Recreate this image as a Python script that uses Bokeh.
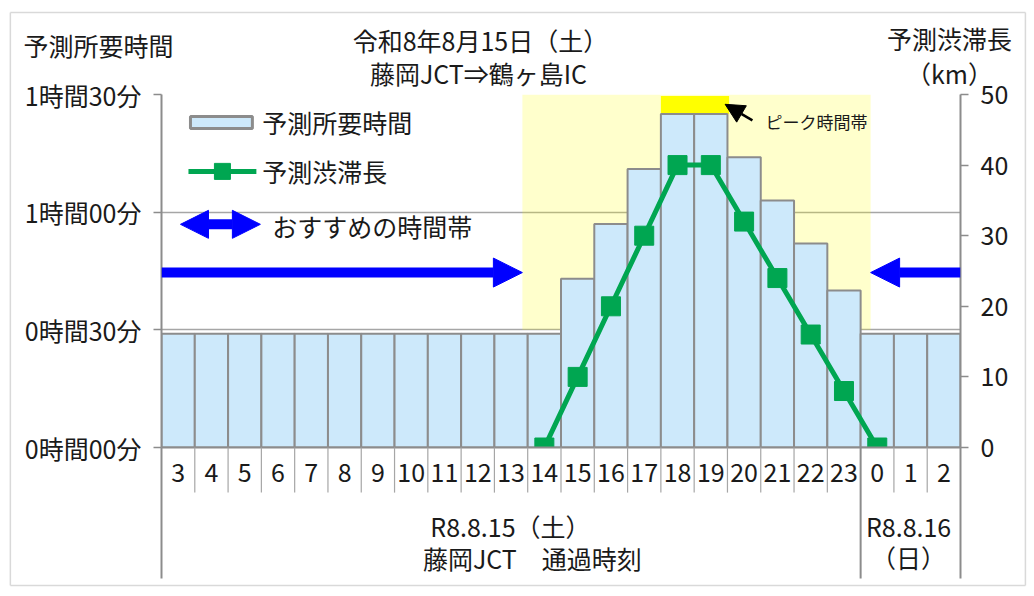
from bokeh.plotting import figure
from bokeh.models import (ColumnDataSource, FactorRange, Range1d, LinearAxis, FixedTicker,
                          Arrow, NormalHead)
from bokeh.core.properties import value
from bokeh.embed import file_html
from bokeh.resources import INLINE

# ---------------- data ----------------
hours = ["3", "4", "5", "6", "7", "8", "9", "10", "11", "12", "13", "14",
         "15", "16", "17", "18", "19", "20", "21", "22", "23", "0", "1", "2"]
travel_minutes = [29, 29, 29, 29, 29, 29, 29, 29, 29, 29, 29, 29,
                  43, 57, 71, 85, 85, 74, 63, 52, 40, 29, 29, 29]
jam_hours = ["14", "15", "16", "17", "18", "19", "20", "21", "22", "23", "0"]
jam_km = [0, 10, 20, 30, 40, 40, 32, 24, 16, 8, 0]
peak_hours = ["18", "19"]

time_ticks = [0, 30, 60, 90]
time_tick_labels = ["0時間00分", "0時間30分", "1時間00分", "1時間30分"]
km_ticks = [0, 10, 20, 30, 40, 50]

title_left = "予測所要時間"
title_center = ["令和8年8月15日（土）", "藤岡JCT⇒鶴ヶ島IC"]
title_right = ["予測渋滞長", "（km）"]
group1_lines = ["R8.8.15（土）", "藤岡JCT　通過時刻"]
group2_lines = ["R8.8.16", "（日）"]
legend_labels = ["予測所要時間", "予測渋滞長", "おすすめの時間帯"]
peak_label = "ピーク時間帯"

# ---------------- style ----------------
FONT = "Noto Sans CJK JP"
FS = "25px"
BAR_FILL = "#cde9fb"
BAR_LINE = "#8c8c8c"
GREEN = "#00a651"
BLUE = "#0000ff"
GRAY = "#8c8c8c"
GRID = "#a6a6a6"
TXT = "#1a1a1a"

n = len(hours)

p = figure(width=1034, height=596,
           x_range=FactorRange(factors=hours, range_padding=0),
           y_range=Range1d(0, 90),
           output_backend="svg", toolbar_location=None, title=None,
           min_border_left=161, min_border_right=74,
           min_border_top=94, min_border_bottom=149)
p.extra_y_ranges = {"km": Range1d(0, 50)}
p.outline_line_color = None
p.background_fill_color = "white"
p.border_fill_color = "white"

# congested (non-recommended) band and peak band
p.quad(left=[10.84], right=[21.30], bottom=[30], top=[90],
       fill_color="#ffff00", fill_alpha=0.2, line_color=None)
i0 = hours.index(peak_hours[0])
i1 = hours.index(peak_hours[-1]) + 1
p.quad(left=[i0], right=[i1 + 0.05], bottom=[max(travel_minutes)], top=[89.6],
       fill_color="#ffff00", line_color=None)

# bars
src = ColumnDataSource(dict(h=hours, t=travel_minutes))
p.vbar(x="h", top="t", bottom=0, width=1.0, source=src,
       fill_color=BAR_FILL, line_color=BAR_LINE, line_width=2)

# jam line
jsrc = ColumnDataSource(dict(h=jam_hours, k=jam_km))
p.line(x="h", y="k", source=jsrc, y_range_name="km", line_color=GREEN, line_width=5)
p.scatter(x="h", y="k", source=jsrc, y_range_name="km", marker="square", size=19,
          fill_color=GREEN, line_color=GREEN)

# axes
xa = p.xaxis[0]
xa.axis_line_color = GRAY
xa.axis_line_width = 2
xa.major_tick_line_color = None
xa.major_tick_out = 0
xa.major_tick_in = 0
xa.major_label_text_font = FONT
xa.major_label_text_font_size = FS
xa.major_label_text_color = TXT
xa.major_label_standoff = 15

ya = p.yaxis[0]
ya.ticker = FixedTicker(ticks=time_ticks)
ya.major_label_overrides = {t: l for t, l in zip(time_ticks, time_tick_labels)}
ya.axis_line_color = GRAY
ya.axis_line_width = 2
ya.major_tick_line_color = GRAY
ya.major_tick_line_width = 1.5
ya.major_tick_out = 8
ya.major_tick_in = 0
ya.minor_tick_line_color = None
ya.major_label_text_font = FONT
ya.major_label_text_font_size = FS
ya.major_label_text_color = TXT
ya.major_label_standoff = 12

ra = LinearAxis(y_range_name="km", ticker=FixedTicker(ticks=km_ticks))
ra.axis_line_color = GRAY
ra.axis_line_width = 2
ra.major_tick_line_color = GRAY
ra.major_tick_line_width = 1.5
ra.major_tick_out = 8
ra.major_tick_in = 0
ra.minor_tick_line_color = None
ra.major_label_text_font = FONT
ra.major_label_text_font_size = FS
ra.major_label_text_color = TXT
ra.major_label_standoff = 12
p.add_layout(ra, "right")

p.xgrid.visible = False
p.ygrid.grid_line_color = GRID
p.ygrid.grid_line_width = 1.5

# recommended-time arrows
p.add_layout(Arrow(x_start=0, y_start=44.6, x_end=10.84, y_end=44.6,
                   line_color=BLUE, line_width=10,
                   end=NormalHead(size=29, fill_color=BLUE, line_color=BLUE, line_width=1)))
p.add_layout(Arrow(x_start=n, y_start=44.6, x_end=21.30, y_end=44.6,
                   line_color=BLUE, line_width=10,
                   end=NormalHead(size=29, fill_color=BLUE, line_color=BLUE, line_width=1)))

# peak annotation
p.add_layout(Arrow(x_start=17.75, y_start=83.4, x_end=16.93, y_end=87.5,
                   line_color="black", line_width=2.5,
                   end=NormalHead(size=19, fill_color="black", line_color="black", line_width=1)))
p.text(x=[18.14], y=[83.1], text=[peak_label], text_font=value(FONT),
       text_font_size="17px", text_baseline="middle", text_align="left", text_color=TXT)

# legend (drawn inside the frame)
p.quad(left=[0.87], right=[2.73], bottom=[81.3], top=[84.4],
       fill_color=BAR_FILL, line_color=BAR_LINE, line_width=3)
p.line(x=[0.81, 2.85], y=[70.4, 70.4], line_color=GREEN, line_width=5)
p.scatter(x=[1.83], y=[70.4], marker="square", size=16, fill_color=GREEN, line_color=GREEN)
p.add_layout(Arrow(x_start=0.57, y_start=56.9, x_end=2.97, y_end=56.9,
                   line_color=BLUE, line_width=10,
                   start=NormalHead(size=28, fill_color=BLUE, line_color=BLUE, line_width=1),
                   end=NormalHead(size=28, fill_color=BLUE, line_color=BLUE, line_width=1)))
p.text(x=[3.03, 3.03, 3.33], y=[82.9, 70.4, 56.4], text=legend_labels,
       text_font=value(FONT), text_font_size=FS, text_baseline="middle",
       text_align="left", text_color=TXT)

# category separators below the axis (overlay level, outside the frame)
bounds = list(range(1, n))
short = [b for b in bounds if b != hours.index("0")]
p.segment(x0=short, y0=[0] * len(short), x1=short, y1=[-11.5] * len(short),
          line_color=GRID, line_width=1.2, level="overlay")
long_x = [0, hours.index("0"), n]
p.segment(x0=long_x, y0=[0] * 3, x1=long_x, y1=[-33.4] * 3,
          line_color=GRAY, line_width=2, level="overlay")

# outer chart border
bx0, bx1, by0, by1 = -4.54, 25.95, -35.2, 110.9
p.segment(x0=[bx0, bx1, bx1, bx0], y0=[by0, by0, by1, by1],
          x1=[bx1, bx1, bx0, bx0], y1=[by0, by1, by1, by0],
          line_color="#d9d9d9", line_width=1.5, level="overlay")

# texts outside the frame
out_x = [-1.89, 9.58, 9.52, 23.67, 23.67, 10.48, 11.14, 22.44, 22.44]
out_y = [102.5, 104.0, 95.6, 104.3, 95.4, -19.9, -28.3, -19.9, -28.0]
out_t = [title_left, title_center[0], title_center[1], title_right[0], title_right[1],
         group1_lines[0], group1_lines[1], group2_lines[0], group2_lines[1]]
p.text(x=out_x, y=out_y, text=out_t, text_font=value(FONT), text_font_size=FS,
       text_align="center", text_baseline="middle", text_color=TXT, level="overlay")

open("out.html", "w").write(file_html(p, INLINE))
